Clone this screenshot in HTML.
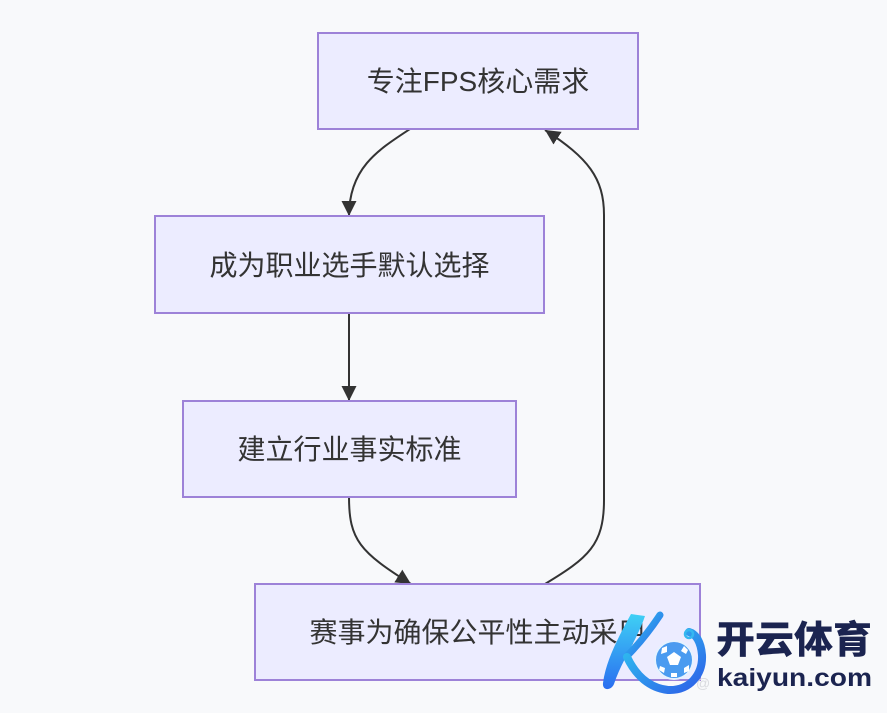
<!DOCTYPE html>
<html>
<head>
<meta charset="utf-8">
<style>
html,body{margin:0;padding:0;background:#f8f9fb;}
svg{display:block;}
.t{font-family:"Liberation Sans","Noto Sans CJK SC",sans-serif;font-size:28px;fill:#333;}
</style>
</head>
<body>
<svg width="887" height="713" viewBox="0 0 887 713" xmlns="http://www.w3.org/2000/svg">
<defs>
<marker id="ah" markerUnits="userSpaceOnUse" markerWidth="18" markerHeight="18" refX="15" refY="7.5" orient="auto">
<path d="M0,0 L15,7.5 L0,15 z" fill="#333"/>
</marker>
<linearGradient id="bg1" x1="0" y1="0" x2="0" y2="1">
<stop offset="0" stop-color="#3fd0f5"/>
<stop offset="1" stop-color="#2a6ef0"/>
</linearGradient>
<linearGradient id="bg2" x1="0" y1="0" x2="1" y2="1">
<stop offset="0" stop-color="#2fc8f0"/>
<stop offset="1" stop-color="#2d5fe8"/>
</linearGradient>
</defs>
<rect width="887" height="713" fill="#f8f9fb"/>

<!-- edges -->
<path d="M410,129 C378,150 349,168 349,216" fill="none" stroke="#333" stroke-width="2" marker-end="url(#ah)"/>
<path d="M349,313 L349,401" fill="none" stroke="#333" stroke-width="2" marker-end="url(#ah)"/>
<path d="M349,497 C349,540 360,552 411,584" fill="none" stroke="#333" stroke-width="2" marker-end="url(#ah)"/>
<path d="M545,584 C588,558 604,545 604,500 L604,215 C604,178 588,158 545,130" fill="none" stroke="#333" stroke-width="2" marker-end="url(#ah)"/>

<!-- nodes -->
<rect x="318" y="33" width="320" height="96" fill="#ececff" stroke="#9d82d8" stroke-width="2"/>
<text class="t" x="478" y="91" text-anchor="middle">专注FPS核心需求</text>

<rect x="155" y="216" width="389" height="97" fill="#ececff" stroke="#9d82d8" stroke-width="2"/>
<text class="t" x="349.5" y="275" text-anchor="middle">成为职业选手默认选择</text>

<rect x="183" y="401" width="333" height="96" fill="#ececff" stroke="#9d82d8" stroke-width="2"/>
<text class="t" x="349.5" y="459" text-anchor="middle">建立行业事实标准</text>

<rect x="255" y="584" width="445" height="96" fill="#ececff" stroke="#9d82d8" stroke-width="2"/>
<text class="t" x="477.5" y="642" text-anchor="middle">赛事为确保公平性主动采用</text>

<!-- watermark logo -->
<g>
<path d="M631,614 L645,616 C637,640 622,660 614,684 C611,691 602,691 603,683 C606,660 619,636 631,614 z" fill="url(#bg1)"/>
<path d="M660,615 C650,630 638,645 627,656" fill="none" stroke="url(#bg2)" stroke-width="7" stroke-linecap="round"/>
<path d="M627,657 C636,676 650,688 668,690 C690,691 703,674 702,655 C701,642 696,634 689,632" fill="none" stroke="url(#bg2)" stroke-width="8" stroke-linecap="round"/>
<circle cx="689" cy="634" r="4" fill="none" stroke="#35b8f0" stroke-width="2.5"/>
<circle cx="674" cy="660" r="19" fill="#4a9bf0" stroke="#e6f2ff" stroke-width="2"/>
<polygon points="674,652 681,657 678,665 670,665 667,657" fill="#ffffff"/>
<polygon points="662,648 667,646 667,652 661,654" fill="#ffffff"/>
<polygon points="684,646 688,650 686,654 681,651" fill="#ffffff"/>
<polygon points="660,666 665,668 664,673 659,670" fill="#ffffff"/>
<polygon points="684,668 689,665 689,671 684,673" fill="#ffffff"/>
<polygon points="671,673 677,673 677,677 671,677" fill="#ffffff"/>
</g>
<text x="716" y="653" font-family="'Noto Sans CJK SC','WenQuanYi Zen Hei',sans-serif" font-size="38" font-weight="900" fill="#1b2450" textLength="156" lengthAdjust="spacingAndGlyphs">开云体育</text>
<text x="696" y="688" font-family="'Liberation Sans','Noto Sans CJK SC',sans-serif" font-size="14" fill="#d9dadf">@</text>
<text x="717" y="686" font-family="'Liberation Sans',sans-serif" font-size="25" font-weight="bold" fill="#1b2450" textLength="155" lengthAdjust="spacingAndGlyphs">kaiyun.com</text>
</svg>
</body>
</html>
